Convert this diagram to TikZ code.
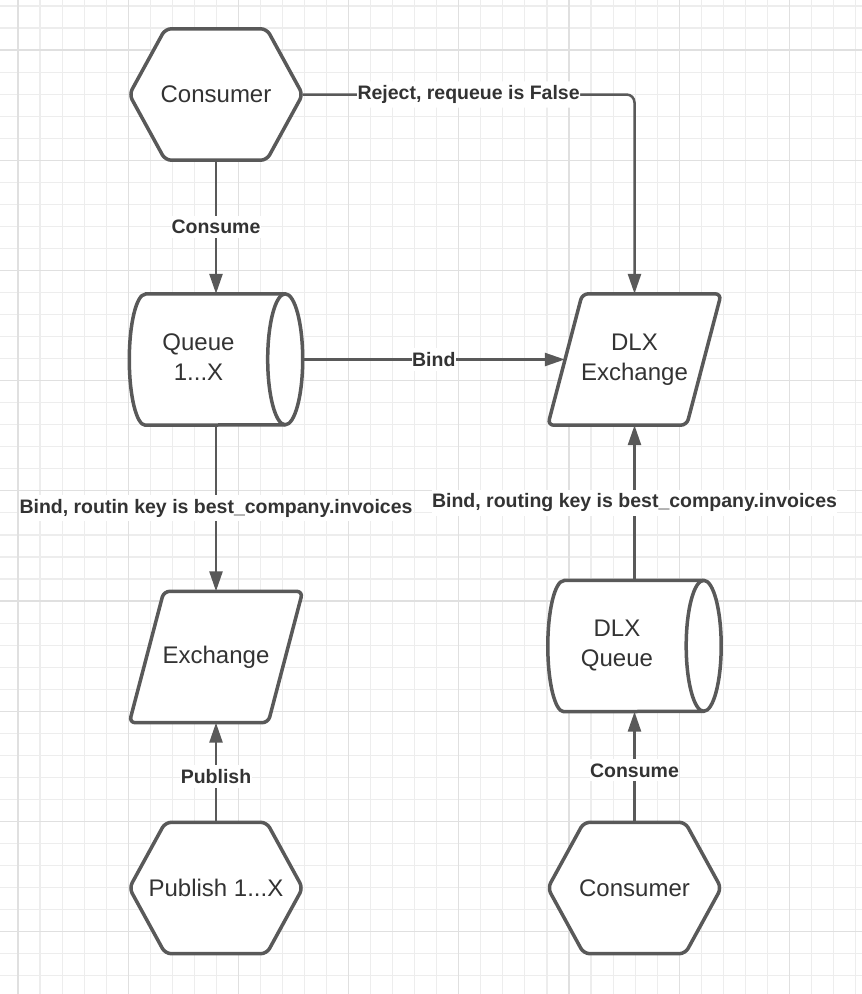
\documentclass[tikz,border=0pt]{standalone}
\usepackage{fontspec}
\setmainfont{Liberation Sans}
\usetikzlibrary{arrows.meta}

\definecolor{gridminor}{HTML}{EDEDED}
\definecolor{gridmajor}{HTML}{E0E0E0}
\definecolor{shapegray}{HTML}{595959}
\definecolor{textgray}{HTML}{333333}

\pgfdeclarelayer{background}
\pgfsetlayers{background,main}

\begin{document}
\begin{tikzpicture}[
  x=1pt, y=1pt,
  box/.style={inner sep=0pt, minimum width=173pt, minimum height=131pt, align=center, text=textgray, font=\fontsize{24}{30}\selectfont},
  boxtext/.style={align=center, text=textgray, font=\fontsize{24}{30}\selectfont},
  outline/.style={draw=shapegray, line width=3.5pt, fill=white, rounded corners=6pt, line join=round},
  arrow/.style={draw=shapegray, line width=2.5pt, -{Triangle[length=20pt, width=13pt]}},
  elabel/.style={fill=white, inner xsep=0.5pt, inner ysep=4pt, text=textgray, font=\fontsize{19.5}{22}\selectfont\bfseries}
]
  \useasboundingbox (0,0) rectangle (862,-994);

  % Nodes
  \node[box] (consumer) at (216,-94.5) {Consumer};
  \node[box, label={[boxtext, xshift=-17.5pt, yshift=2pt]center:Queue\\1...X}] (queue) at (216,-359.5) {};
  \node[box] (exchange) at (216,-657) {Exchange};
  \node[box] (publish) at (216,-888) {Publish 1...X};
  \node[box] (dlxexchange) at (634.5,-359.5) {DLX\\Exchange};
  \node[box, label={[boxtext, xshift=-17.5pt]center:DLX\\Queue}] (dlxqueue) at (634.5,-646) {};
  \node[box] (consumertwo) at (634.5,-888) {Consumer};

  \begin{pgfonlayer}{background}
    % Grid
    \fill[white] (0,0) rectangle (862,-994);
    \foreach \k in {0,...,38}
      \draw[gridminor, line width=1.1pt] ({18+22.04*\k},0) -- ++(0,-994);
    \foreach \k in {0,...,44}
      \draw[gridminor, line width=1.1pt] (0,{-6-22.04*\k}) -- ++(862,0);
    \foreach \k in {0,...,7}
      \draw[gridmajor, line width=1.3pt] ({18+110.2*\k},0) -- ++(0,-994);
    \foreach \k in {0,...,8}
      \draw[gridmajor, line width=1.3pt] (0,{-50-110.2*\k}) -- ++(862,0);

    % Hexagons
    \foreach \n in {consumer, publish, consumertwo}
      \draw[outline] (\n.west) -- ([xshift=36pt]\n.north west) -- ([xshift=-36pt]\n.north east)
        -- (\n.east) -- ([xshift=-36pt]\n.south east) -- ([xshift=36pt]\n.south west) -- cycle;

    % Parallelograms
    \foreach \n in {exchange, dlxexchange}
      \draw[outline] (\n.south west) -- ([xshift=34.5pt]\n.north west) -- (\n.north east)
        -- ([xshift=-34.5pt]\n.south east) -- cycle;

    % Cylinders
    \foreach \n in {queue, dlxqueue} {
      \draw[outline, sharp corners] ([xshift=16pt]\n.north west) -- ([xshift=-17.5pt]\n.north east)
        arc[start angle=90, end angle=-90, x radius=17.5pt, y radius=65.5pt]
        -- ([xshift=16pt]\n.south west)
        arc[start angle=270, end angle=90, x radius=16pt, y radius=65.5pt] -- cycle;
      \draw[outline, sharp corners, fill=none] ([xshift=-17.5pt]\n.north east)
        arc[start angle=90, end angle=270, x radius=17.5pt, y radius=65.5pt];
    }
  \end{pgfonlayer}

  % Connectors
  \draw[arrow, rounded corners=8pt] (consumer.east) -| node[elabel, pos=0.25] {Reject, requeue is False} (dlxexchange.north);
  \draw[arrow] (consumer.south) -- node[elabel] {Consume} (queue.north);
  \draw[arrow] (queue.east) -- node[elabel] {Bind} ([xshift=17pt]dlxexchange.west);
  \draw[arrow] (queue.south) -- node[elabel] {Bind, routin key is best\_company.invoices} (exchange.north);
  \draw[arrow] (publish.north) -- node[elabel, pos=0.46] {Publish} (exchange.south);
  \draw[arrow] (dlxqueue.north) -- node[elabel] {Bind, routing key is best\_company.invoices} (dlxexchange.south);
  \draw[arrow] (consumertwo.north) -- node[elabel, pos=0.47] {Consume} (dlxqueue.south);
\end{tikzpicture}
\end{document}
